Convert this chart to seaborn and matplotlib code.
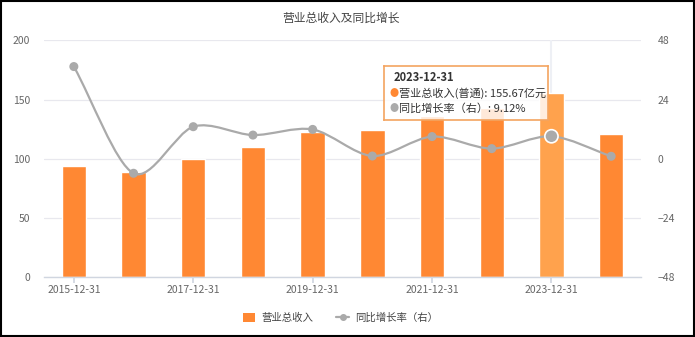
import numpy as np
import pandas as pd
import matplotlib
matplotlib.use("Agg")
import matplotlib.pyplot as plt
from matplotlib.path import Path
from matplotlib.patches import PathPatch, Patch, Rectangle
from matplotlib.lines import Line2D
import seaborn as sns

dates = ["2015-12-31", "2016-12-31", "2017-12-31", "2018-12-31", "2019-12-31",
         "2020-12-31", "2021-12-31", "2022-12-31", "2023-12-31", "2024-12-31"]
revenue = [94.1, 88.5, 99.8, 110.0, 122.9, 124.6, 135.9, 142.7, 155.67, 120.7]
growth = [37.4, -5.9, 13.0, 9.6, 11.9, 1.1, 9.0, 4.1, 9.12, 1.0]
left_ticks = [0, 50, 100, 150, 200]
right_ticks = [-48, -24, 0, 24, 48]
title = "营业总收入及同比增长"
bar_label = "营业总收入"
line_label = "同比增长率（右）"
tip_date = "2023-12-31"
tip_row1 = "营业总收入(普通): 155.67亿元"
tip_row2 = "同比增长率（右）: 9.12%"
highlight = 8

BAR = "#FF8833"
BAR_HI = "#FFA24D"
LINE = "#AAAAAA"
GRID = "#E8E8EE"

sns.set_theme(style="white")
plt.rcParams["font.family"] = ["Noto Sans CJK SC", "DejaVu Sans"]

fig = plt.figure(figsize=(6.95, 3.37), dpi=100)
ax = fig.add_axes([0.0633, 0.178, 0.859, 0.702])

df = pd.DataFrame({"date": dates, "revenue": revenue, "growth": growth})
palette = {d: (BAR_HI if i == highlight else BAR) for i, d in enumerate(dates)}
sns.barplot(data=df, x="date", y="revenue", hue="date", palette=palette,
            legend=False, width=0.41, ax=ax, saturation=1, zorder=2)

ax.set_ylim(0, 200)
ax.set_yticks(left_ticks)
ax.set_xlim(-0.5, len(dates) - 0.5)
ax.set_xticks(range(0, len(dates), 2))
ax.set_xticklabels([dates[i] for i in range(0, len(dates), 2)])
ax.set_xlabel("")
ax.set_ylabel("")
for s in ["top", "right", "left"]:
    ax.spines[s].set_visible(False)
ax.spines["bottom"].set_color("#D0D6E0")
ax.spines["bottom"].set_linewidth(1)
ax.grid(axis="y", color=GRID, linewidth=0.9, zorder=0)
ax.set_axisbelow(True)
ax.tick_params(axis="x", length=4, color="#D0D6E0", labelsize=7.5,
               labelcolor="#666666", pad=2, bottom=True)
ax.tick_params(axis="y", length=0, labelsize=7.5, labelcolor="#666666", pad=10)

# axis pointer line
ax.axvline(highlight, color="#EEF0F5", linewidth=1.5, zorder=1)

ax2 = ax.twinx()
ax2.set_ylim(-48, 48)
ax2.set_yticks(right_ticks)
for s in ["top", "right", "left", "bottom"]:
    ax2.spines[s].set_visible(False)
ax2.tick_params(axis="y", length=0, labelsize=7.5, labelcolor="#666666", pad=12)
ax2.grid(False)

# smooth curve through the data points (Catmull-Rom style Bezier)
xs = np.arange(len(growth), dtype=float)
ys = np.array(growth, dtype=float)
k = 0.3
verts = [(xs[0], ys[0])]
codes = [Path.MOVETO]
for i in range(len(xs) - 1):
    p0 = np.array([xs[max(i - 1, 0)], ys[max(i - 1, 0)]])
    p1 = np.array([xs[i], ys[i]])
    p2 = np.array([xs[i + 1], ys[i + 1]])
    p3 = np.array([xs[min(i + 2, len(xs) - 1)], ys[min(i + 2, len(xs) - 1)]])
    c1 = p1 + (p2 - p0) * k / 2 if i > 0 else p1 + (p2 - p1) * k
    c2 = p2 - (p3 - p1) * k / 2 if i + 2 < len(xs) else p2 - (p2 - p1) * k
    verts += [tuple(c1), tuple(c2), tuple(p2)]
    codes += [Path.CURVE4] * 3
ax2.add_patch(PathPatch(Path(verts, codes), facecolor="none", edgecolor=LINE,
                        linewidth=1.6, zorder=3))
sizes = [90 if i == highlight else 28 for i in range(len(dates))]
edges = ["white" if i == highlight else LINE for i in range(len(dates))]
ax2.scatter(xs, ys, s=sizes, color=LINE, edgecolors=edges, linewidths=1.2, zorder=4)

# title
fig.text(0.49, 0.945, title, ha="center", va="center", fontsize=8.5, color="#444444")

# tooltip
tip = fig.add_axes([384 / 695, 1 - 120 / 337, 164 / 695, 54 / 337])
tip.set_xticks([]); tip.set_yticks([])
tip.set_facecolor((1, 1, 1, 0.82))
for s in tip.spines.values():
    s.set_color("#F4A460")
    s.set_linewidth(1.2)
tip.set_zorder(10)
tip.text(0.06, 0.78, tip_date, fontsize=8, color="#333333", va="center",
         fontweight="bold", transform=tip.transAxes)
tip.text(0.035, 0.49, "●", fontsize=6.5, color=BAR, va="center", transform=tip.transAxes)
tip.text(0.09, 0.49, tip_row1, fontsize=8, color="#333333", va="center", transform=tip.transAxes)
tip.text(0.035, 0.22, "●", fontsize=6.5, color=LINE, va="center", transform=tip.transAxes)
tip.text(0.09, 0.22, tip_row2, fontsize=8, color="#333333", va="center", transform=tip.transAxes)

# legend
handles = [Patch(facecolor=BAR, edgecolor="none", label=bar_label),
           Line2D([0], [0], color=LINE, marker="o", markersize=4, linewidth=1.6,
                  label=line_label)]
fig.legend(handles=handles, loc="center", bbox_to_anchor=(0.49, 0.057), ncol=2,
           frameon=False, fontsize=7.5, handlelength=1.2, handleheight=1.0,
           columnspacing=2.2, handletextpad=0.6, labelcolor="#444444")

# figure border
fig.patches.append(Rectangle((0.0015, 0.003), 0.997, 0.994, transform=fig.transFigure,
                             fill=False, edgecolor="black", linewidth=1.5))

fig.savefig("out.png", dpi=100)
